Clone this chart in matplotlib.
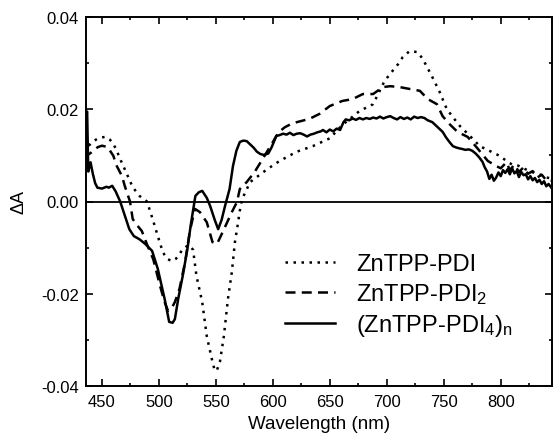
import matplotlib
matplotlib.use("Agg")
import matplotlib.pyplot as plt
from matplotlib.ticker import MultipleLocator, FormatStrFormatter

plt.rcParams['font.family'] = ['Liberation Sans', 'DejaVu Sans']
plt.rcParams['mathtext.fontset'] = 'custom'
plt.rcParams['mathtext.rm'] = 'Liberation Sans'
plt.rcParams['mathtext.default'] = 'regular'

# ZnTPP-PDI (dotted)
wl_pdi = [436, 438, 442, 446, 450, 453, 457, 460, 463, 466, 470, 477, 483, 489.5, 495, 499,
          503.5, 507, 511, 515, 518, 521, 524.5, 527, 530, 533, 538, 542, 546.5, 549, 551,
          553.5, 557, 560.6, 564, 566.7, 569, 571, 573, 580, 587, 595, 606, 621, 635, 650,
          661, 676, 688, 698, 704, 710, 714, 720, 727, 731.6, 739.5, 746.5, 752.7, 758, 764,
          773, 781.6, 790, 799, 805, 810, 815, 820, 825, 830, 835, 840, 845]
dA_pdi = [0.0105, 0.012, 0.013, 0.0136, 0.0139, 0.014, 0.0134, 0.0125, 0.011, 0.0092, 0.007,
          0.0031, 0.0012, 0.0, -0.0042, -0.0075, -0.011, -0.0124, -0.0129, -0.0124, -0.0114,
          -0.0103, -0.0097, -0.0095, -0.0105, -0.0162, -0.0218, -0.0292, -0.0342, -0.0367,
          -0.0365, -0.0348, -0.0292, -0.0211, -0.0153, -0.0088, -0.0053, -0.002, 0.0005,
          0.0042, 0.0055, 0.007, 0.0088, 0.0108, 0.012, 0.0137, 0.0166, 0.0196, 0.0211,
          0.0261, 0.028, 0.0298, 0.0313, 0.0326, 0.0324, 0.0309, 0.0272, 0.0237, 0.02,
          0.0183, 0.0164, 0.0142, 0.012, 0.011, 0.0099, 0.0088, 0.008, 0.0078, 0.0072,
          0.0066, 0.0062, 0.0058, 0.0052, 0.005]

# ZnTPP-PDI2 (dashed)
wl_pdi2 = [436, 438, 440, 443, 446.5, 450, 455, 460, 463, 467.6, 470, 474.6, 477, 481, 485,
           490, 495, 501, 505, 508, 511, 514, 518, 523, 527, 531.6, 536, 542, 547, 551, 556,
           564, 568.5, 571, 577, 584, 591, 600, 605, 610.5, 616, 621, 632, 641, 650, 655, 661,
           670, 679, 688, 696.5, 703, 711.5, 720, 729, 736, 744, 749, 755, 762, 771, 780,
           788.6, 796, 800, 805, 808, 812, 816, 820, 824, 828, 832, 836, 840, 845]
dA_pdi2 = [0.009, 0.0102, 0.0105, 0.0112, 0.0118, 0.0121, 0.0118, 0.0099, 0.0077, 0.0055,
           0.0034, 0.0, -0.0038, -0.0052, -0.0064, -0.0096, -0.0125, -0.0183, -0.0218,
           -0.0237, -0.0232, -0.0218, -0.019, -0.0131, -0.0066, -0.0016, -0.0023, -0.0045,
           -0.0088, -0.0092, -0.0066, -0.0023, -0.0001, 0.0027, 0.0042, 0.0064, 0.0092,
           0.0129, 0.015, 0.0161, 0.0168, 0.0172, 0.0179, 0.019, 0.0207, 0.0212, 0.0218,
           0.0222, 0.0233, 0.0233, 0.0248, 0.025, 0.0248, 0.0244, 0.024, 0.0222, 0.0211,
           0.0185, 0.0168, 0.0151, 0.014, 0.0114, 0.0088, 0.0077, 0.0072, 0.0085, 0.0068,
           0.008, 0.0064, 0.0074, 0.006, 0.0066, 0.0052, 0.0058, 0.0046, 0.0045]

# (ZnTPP-PDI4)n (solid)
wl_poly = [436, 437, 438, 440, 442, 444, 446, 450, 454, 456, 459, 462, 466, 470, 474, 478,
           483, 488, 494, 499, 505, 509, 512, 514, 517, 521, 525, 528, 532, 535, 538, 542,
           545, 549, 552, 555, 558, 562, 565, 568, 571, 574, 577, 580, 583, 586, 589, 592,
           596, 599, 603, 606, 609, 612, 615, 618, 621, 624, 627, 630, 633, 636, 639, 642,
           644, 647, 650, 653, 656, 659, 662, 664, 667, 670, 673, 676, 679, 682, 685, 688,
           691, 694, 697, 700, 703, 706, 709, 712, 715, 718, 721, 724, 727, 730, 733, 736,
           740, 743, 746, 749, 752, 755, 758, 761, 764, 766, 769, 772, 775, 778, 781, 784,
           786, 788, 790, 792, 794, 796, 798, 800, 802, 804, 806, 808, 810, 812, 814, 816,
           818, 820, 822, 824, 826, 828, 830, 832, 834, 836, 838, 840, 842, 845]
dA_poly = [0.019, 0.0195, 0.0065, 0.0085, 0.006, 0.004, 0.003, 0.0028, 0.0032, 0.003,
           0.0034, 0.0022, 0.0, -0.003, -0.006, -0.0075, -0.0082, -0.0092, -0.0107, -0.0146,
           -0.0211, -0.0261, -0.0263, -0.0255, -0.021, -0.016, -0.0103, -0.005, 0.0012,
           0.002, 0.0023, 0.0008, -0.001, -0.004, -0.006, -0.004, -0.001, 0.0027, 0.0077,
           0.011, 0.0129, 0.0132, 0.0131, 0.0124, 0.0117, 0.0108, 0.0103, 0.0101, 0.0104,
           0.0118, 0.0142, 0.0144, 0.0147, 0.0145, 0.0149, 0.0144, 0.0147, 0.0148, 0.0145,
           0.0141, 0.0145, 0.0147, 0.015, 0.0152, 0.0155, 0.015, 0.0156, 0.0152, 0.0158,
           0.0155, 0.0172, 0.0178, 0.0176, 0.018, 0.0177, 0.0181, 0.0178, 0.0181, 0.0179,
           0.0182, 0.018, 0.0184, 0.018, 0.0183, 0.0185, 0.0181, 0.0178, 0.0183, 0.0179,
           0.0182, 0.0178, 0.0184, 0.0181, 0.0183, 0.0181, 0.0176, 0.0172, 0.0165, 0.0158,
           0.0151, 0.0139, 0.0129, 0.012, 0.0117, 0.0115, 0.0114, 0.0112, 0.0113, 0.011,
           0.0104, 0.0096, 0.0086, 0.0074, 0.0065, 0.0049, 0.0058, 0.0045, 0.0052, 0.0063,
           0.0055, 0.0068, 0.0062, 0.007, 0.0059, 0.0072, 0.0061, 0.0066, 0.0053, 0.0064,
           0.0057, 0.0059, 0.0048, 0.0055, 0.0046, 0.0051, 0.0042, 0.0047, 0.0038, 0.0044,
           0.0033, 0.0038, 0.0028]

labels = ['ZnTPP-PDI', 'ZnTPP-PDI$_2$', '(ZnTPP-PDI$_4$)$_n$']

fig = plt.figure(figsize=(5.53, 4.35), dpi=100)
ax = fig.add_axes([86/553, 1 - 387/435, (552 - 86)/553, (387 - 18)/435])

ax.plot(wl_pdi, dA_pdi, color='black', lw=1.8, linestyle=(0, (1, 2.2)), label=labels[0])
ax.plot(wl_pdi2, dA_pdi2, color='black', lw=1.8, linestyle=(0, (4, 2.5)), label=labels[1])
ax.plot(wl_poly, dA_poly, color='black', lw=1.8, linestyle='-', label=labels[2])
ax.axhline(0, color='black', lw=1.3)

ax.set_xlim(436, 845)
ax.set_ylim(-0.04, 0.04)
ax.xaxis.set_major_locator(MultipleLocator(50))
ax.xaxis.set_minor_locator(MultipleLocator(25))
ax.yaxis.set_major_locator(MultipleLocator(0.02))
ax.yaxis.set_minor_locator(MultipleLocator(0.01))
ax.yaxis.set_major_formatter(FormatStrFormatter('%.2f'))
ax.tick_params(which='both', direction='in', top=True, right=True, labelsize=12, width=1.2)
ax.tick_params(which='major', length=5)
ax.tick_params(which='minor', length=2.5)
ax.tick_params(axis='y', which='major', pad=5)
ax.tick_params(axis='x', which='major', pad=6)
for s in ax.spines.values():
    s.set_linewidth(1.4)

ax.set_xlabel('Wavelength (nm)', fontsize=13.5, labelpad=4)
ax.set_ylabel('ΔA', fontsize=13, labelpad=10)

leg = ax.legend(loc='upper left', bbox_to_anchor=(0.427, 0.36), frameon=False, fontsize=17,
                handlelength=2.1, handletextpad=0.9, labelspacing=0.25, borderaxespad=0,
                borderpad=0)

fig.savefig('out.png', dpi=100)
